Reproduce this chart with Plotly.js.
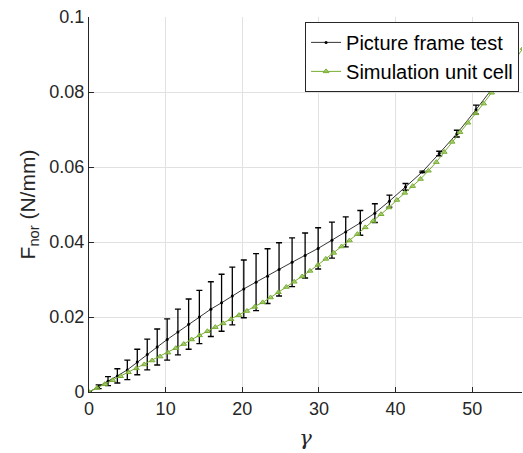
<!DOCTYPE html>
<html>
<head>
<meta charset="utf-8">
<script src="https://cdn.plot.ly/plotly-3.0.1.min.js"></script>
<style>html,body{margin:0;padding:0;background:#fff;}#chart{width:523px;height:453px;}</style>
</head>
<body>
<div id="chart"></div>
<script>
// Picture frame test (mean with error bars)
const testGamma = [0, 1.26, 2.48, 3.7, 5.0, 6.3, 7.6, 8.9, 10.2, 11.6, 13.0, 14.4, 15.9, 17.3, 18.7, 20.2, 21.8, 23.3, 24.8, 26.5, 28.2, 29.9, 31.7, 33.5, 35.4, 37.3, 39.2, 41.3, 43.5, 45.7, 48.0, 50.5, 53.1];
const testForce = [0, 0.0014, 0.0029, 0.0043, 0.0059, 0.0080, 0.0100, 0.0120, 0.0140, 0.0160, 0.0181, 0.0200, 0.0221, 0.0238, 0.0256, 0.0275, 0.0293, 0.0309, 0.0327, 0.0346, 0.0364, 0.0383, 0.0405, 0.0427, 0.0451, 0.0477, 0.0509, 0.0547, 0.0587, 0.0636, 0.0689, 0.0753, 0.0822];
const testError = [0, 0.0005, 0.0012, 0.0019, 0.0026, 0.0034, 0.0041, 0.0048, 0.0055, 0.0061, 0.0067, 0.0071, 0.0073, 0.0076, 0.0077, 0.0077, 0.0076, 0.0073, 0.0071, 0.0065, 0.0060, 0.0055, 0.0048, 0.0040, 0.0033, 0.0025, 0.0016, 0.0009, 0.0002, 0.0006, 0.0009, 0.0012, 0.0008];

// Simulation unit cell
const simGamma = [0, 1.03, 2.06, 3.09, 4.12, 5.15, 6.18, 7.21, 8.24, 9.27, 10.3, 11.33, 12.36, 13.39, 14.42, 15.45, 16.48, 17.51, 18.54, 19.57, 20.6, 21.63, 22.66, 23.69, 24.72, 25.75, 26.78, 27.81, 28.84, 29.87, 30.9, 31.93, 32.96, 33.99, 35.02, 36.05, 37.08, 38.11, 39.14, 40.17, 41.2, 42.23, 43.26, 44.29, 45.32, 46.35, 47.38, 48.41, 49.44, 50.47, 51.5, 52.53, 53.56, 54.59, 55.62, 56.65];
const simForce = [0, 0.00105, 0.0021, 0.00315, 0.0042, 0.00525, 0.0063, 0.00735, 0.0084, 0.00945, 0.0105, 0.0117, 0.0128, 0.0140, 0.0151, 0.0162, 0.0173, 0.0183, 0.0194, 0.0205, 0.0216, 0.0227, 0.0239, 0.0252, 0.0266, 0.0280, 0.0294, 0.0308, 0.0323, 0.0339, 0.0355, 0.0371, 0.0388, 0.0404, 0.0421, 0.0439, 0.0456, 0.0474, 0.0492, 0.0512, 0.0531, 0.0549, 0.0568, 0.0590, 0.0613, 0.0640, 0.0667, 0.0693, 0.0718, 0.0743, 0.0769, 0.0798, 0.0828, 0.0857, 0.0887, 0.0917];

const seriesNames = ['Picture frame test', 'Simulation unit cell'];
const xTicks = [0, 10, 20, 30, 40, 50];
const yTicks = [0, 0.02, 0.04, 0.06, 0.08, 0.1];
const yTickText = ['0', '0.02', '0.04', '0.06', '0.08', '0.1'];

const FONT = 'Liberation Sans, Arial, Helvetica, sans-serif';
const TXT = '#262626';

const traces = [
  {
    x: testGamma, y: testForce, name: seriesNames[0], type: 'scatter', mode: 'lines+markers',
    line: {color: '#000000', width: 0.8},
    marker: {color: '#000000', size: 3},
    error_y: {type: 'data', array: testError, visible: true, color: '#000000', thickness: 1.3, width: 3}
  },
  {
    x: simGamma, y: simForce, name: seriesNames[1], type: 'scatter', mode: 'lines+markers',
    line: {color: '#77AC30', width: 1},
    marker: {symbol: 'triangle-up', size: 5, color: 'rgba(150,200,90,0.7)', line: {color: '#77AC30', width: 1}},
    cliponaxis: true
  }
];

const layout = {
  width: 523, height: 453,
  margin: {l: 89, r: 1, t: 17, b: 61, pad: 0},
  paper_bgcolor: '#ffffff', plot_bgcolor: '#ffffff',
  font: {family: FONT, color: TXT, size: 18},
  showlegend: true,
  legend: {
    x: 0.499, y: 0.987, xanchor: 'left', yanchor: 'top',
    bgcolor: '#ffffff', bordercolor: TXT, borderwidth: 1,
    font: {family: FONT, size: 20, color: '#000000'},
    itemwidth: 30, tracegroupgap: 0
  },
  xaxis: {
    range: [0, 56.5], tickvals: xTicks, ticktext: xTicks.map(String),
    ticks: 'inside', ticklen: 5, tickcolor: TXT, tickwidth: 1,
    showline: true, linecolor: TXT, linewidth: 1, mirror: false,
    showgrid: true, gridcolor: '#e1e1e1', gridwidth: 1, zeroline: false,
    tickfont: {family: FONT, size: 18, color: TXT},
    title: {text: 'γ', font: {family: 'DejaVu Serif, serif', size: 21, color: TXT, style: 'italic'}, standoff: 12}
  },
  yaxis: {
    range: [0, 0.1], tickvals: yTicks, ticktext: yTickText,
    ticks: 'inside', ticklen: 5, tickcolor: TXT, tickwidth: 1,
    showline: true, linecolor: TXT, linewidth: 1, mirror: false,
    showgrid: true, gridcolor: '#e1e1e1', gridwidth: 1, zeroline: false,
    tickfont: {family: FONT, size: 18, color: TXT},
    title: {text: 'F<sub>nor</sub> (N/mm)', font: {family: FONT, size: 21, color: TXT}, standoff: 8}
  }
};

Plotly.newPlot('chart', traces, layout, {displayModeBar: false, staticPlot: true});
</script>
</body>
</html>
